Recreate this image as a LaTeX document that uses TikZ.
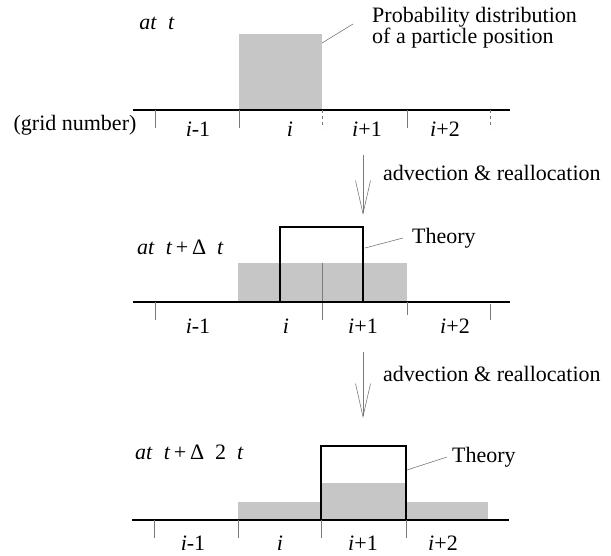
\documentclass[tikz,border=0pt]{standalone}
\usepackage{fontspec}
\setmainfont{Liberation Serif}
\usepackage{tikz}
\usetikzlibrary{arrows.meta,positioning}
\definecolor{ink}{HTML}{000000}
\definecolor{dots}{HTML}{C6C6C6}
\definecolor{muted}{HTML}{7A7A7A}
\tikzset{
  axis/.style={draw=ink, line width=2pt},
  gridtick/.style={draw=muted, line width=0.7pt},
  prob/.style={fill=dots, draw=none},
  theory/.style={draw=ink, line width=2.2pt},
  lead/.style={draw=muted, line width=0.6pt},
  flow/.style={-{Straight Barb[length=33pt, width=15pt]}, draw=muted, line width=0.6pt},
  lbl/.style={font=\fontsize{22}{21}\selectfont, inner sep=0pt, align=left},
}

\begin{document}
\begin{tikzpicture}[x=1pt, y=-1pt]
  \useasboundingbox (0,0) rectangle (611,555);

  % at t
  \fill[prob] (239,34) rectangle (322,110);
  \draw[axis] (133,110) -- (510,110);
  \draw[gridtick] (155,110) -- (155,128);
  \draw[gridtick] (239,110) -- (239,128);
  \draw[gridtick, dashed] (322,110) -- (322,128);
  \draw[gridtick] (407,110) -- (407,128);
  \draw[gridtick, dashed] (490,110) -- (490,128);
  \node[lbl] (at1) at (157,23) {\textit{at}\enspace\textit{t}};
  \node[lbl] (grid) at (75,125) {(grid number)};
  \node[lbl] (c1a) at (198,129) {\textit{i}-1};
  \node[lbl] (c1b) at (290,129) {\textit{i}};
  \node[lbl] (c1c) at (367,129) {\textit{i}+1};
  \node[lbl] (c1d) at (445,129) {\textit{i}+2};
  \node[lbl, anchor=west] (pdf) at (372,28) {Probability distribution\\of a particle position};
  \coordinate (pa) at (322,43);
  \coordinate (pb) at (353,24);
  \draw[lead] (pa) -- (pb);

  % advection 1
  \coordinate (f1s) at (363,155);
  \coordinate (f1e) at (363,215);
  \draw[flow] (f1s) -- (f1e);
  \node[lbl, anchor=west] (adv1) at (383,173) {advection \& reallocation};

  % at t + dt
  \fill[prob] (238,263) rectangle (407,302);
  \draw[gridtick] (322,263) -- (322,320);
  \draw[axis] (133,302) -- (510,302);
  \draw[theory] (280,302) -- (280,227) -- (363,227) -- (363,302);
  \draw[gridtick] (155,302) -- (155,320);
  \draw[gridtick] (407,302) -- (407,315);
  \draw[gridtick] (490,304) -- (490,320);
  \node[lbl, anchor=west] (at2) at (137,247) {\textit{at}\enspace\textit{t}\thinspace+\thinspace Δ\enspace\textit{t}};
  \node[lbl] (c2a) at (198,326) {\textit{i}-1};
  \node[lbl] (c2b) at (286,326) {\textit{i}};
  \node[lbl] (c2c) at (363,326) {\textit{i}+1};
  \node[lbl] (c2d) at (455,326) {\textit{i}+2};
  \node[lbl, anchor=west] (th2) at (412,238) {Theory};
  \coordinate (ta) at (365,248);
  \coordinate (tb) at (403,238);
  \draw[lead] (ta) -- (tb);

  % advection 2
  \coordinate (f2s) at (363,352);
  \coordinate (f2e) at (363,418);
  \draw[flow] (f2s) -- (f2e);
  \node[lbl, anchor=west] (adv2) at (383,374) {advection \& reallocation};

  % at t + 2 dt
  \fill[prob] (238,502) rectangle (488,520);
  \fill[prob] (321,483) rectangle (406,520);
  \draw[axis] (132,520) -- (509,520);
  \draw[theory] (321,520) rectangle (406,446);
  \draw[gridtick] (154,520) -- (154,538);
  \draw[gridtick] (238,520) -- (238,538);
  \draw[gridtick] (321,520) -- (321,538);
  \draw[gridtick] (406,520) -- (406,538);
  \node[lbl, anchor=west] (at3) at (135,452) {\textit{at}\enspace\textit{t}\thinspace+\thinspace Δ\enspace2\enspace\textit{t}};
  \node[lbl] (c3a) at (193,543) {\textit{i}-1};
  \node[lbl] (c3b) at (280,543) {\textit{i}};
  \node[lbl] (c3c) at (363,543) {\textit{i}+1};
  \node[lbl] (c3d) at (443,543) {\textit{i}+2};
  \node[lbl, anchor=west] (th3) at (452,457) {Theory};
  \coordinate (tc) at (407,470);
  \coordinate (td) at (447,457);
  \draw[lead] (tc) -- (td);
\end{tikzpicture}
\end{document}
